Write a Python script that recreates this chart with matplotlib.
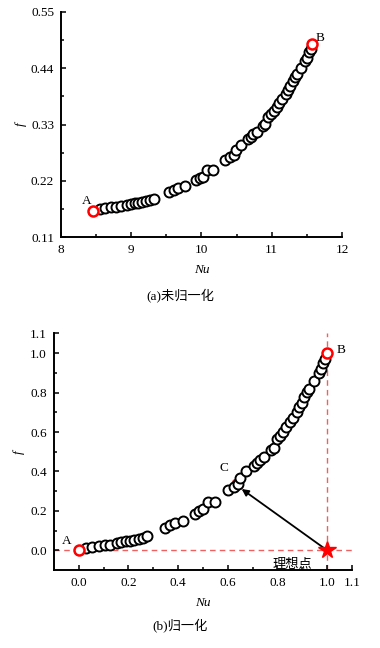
import matplotlib
matplotlib.use("Agg")
import matplotlib.pyplot as plt
from matplotlib.ticker import MultipleLocator, FixedLocator

plt.rcParams['font.family'] = ['Liberation Serif', 'Noto Sans CJK SC']

# (a) raw values
nu_raw = [8.557, 8.632, 8.716, 8.788, 8.850, 8.934, 8.997, 9.050, 9.103, 9.156,
          9.215, 9.262, 9.318, 9.543, 9.605, 9.667, 9.764, 9.920, 9.973, 10.020,
          10.079, 10.167, 10.335, 10.407, 10.457, 10.491, 10.566, 10.656, 10.700, 10.731,
          10.784, 10.875, 10.909, 10.950, 10.984, 11.028, 11.068, 11.109, 11.153, 11.202,
          11.231, 11.265, 11.296, 11.327, 11.358, 11.412, 11.474, 11.505, 11.530, 11.555]
f_raw = [0.165, 0.167, 0.168, 0.169, 0.170, 0.173, 0.175, 0.176, 0.177, 0.178,
         0.180, 0.182, 0.185, 0.198, 0.202, 0.207, 0.210, 0.221, 0.225, 0.228,
         0.241, 0.242, 0.261, 0.266, 0.270, 0.281, 0.291, 0.301, 0.305, 0.311,
         0.315, 0.327, 0.331, 0.345, 0.350, 0.357, 0.365, 0.373, 0.380, 0.390,
         0.398, 0.405, 0.415, 0.422, 0.428, 0.440, 0.454, 0.461, 0.471, 0.477]
raw_A = (8.46, 0.161)
raw_B = (11.58, 0.487)

# (b) normalised values
nu_norm = [0.031, 0.055, 0.082, 0.105, 0.125, 0.152, 0.172, 0.189, 0.206, 0.223,
           0.242, 0.257, 0.275, 0.347, 0.367, 0.387, 0.418, 0.468, 0.485, 0.500,
           0.519, 0.547, 0.601, 0.624, 0.640, 0.651, 0.675, 0.704, 0.718, 0.728,
           0.745, 0.774, 0.785, 0.798, 0.809, 0.823, 0.836, 0.849, 0.863, 0.879,
           0.888, 0.899, 0.909, 0.919, 0.929, 0.946, 0.966, 0.976, 0.984, 0.992]
f_norm = [0.012, 0.017, 0.020, 0.025, 0.029, 0.037, 0.042, 0.045, 0.049, 0.052,
          0.057, 0.064, 0.073, 0.113, 0.126, 0.140, 0.151, 0.185, 0.197, 0.207,
          0.244, 0.247, 0.308, 0.323, 0.335, 0.368, 0.400, 0.429, 0.442, 0.459,
          0.471, 0.509, 0.521, 0.563, 0.580, 0.600, 0.625, 0.650, 0.672, 0.701,
          0.728, 0.748, 0.778, 0.802, 0.818, 0.857, 0.899, 0.921, 0.950, 0.970]
norm_A = (0.0, 0.0)
norm_B = (1.0, 1.0)
norm_C = (0.636, 0.337)
ideal = (1.0, 0.0)

ms = 7.2
mew = 1.4
fs = 9.5

fig = plt.figure(figsize=(3.8, 6.48), dpi=100)


def style_axes(ax):
    for s in ['top', 'right']:
        ax.spines[s].set_visible(False)
    for s in ['left', 'bottom']:
        ax.spines[s].set_linewidth(1.4)
    ax.tick_params(which='both', direction='in', labelsize=fs, width=1.1)
    ax.tick_params(which='major', length=3.5, pad=5)
    ax.tick_params(which='minor', length=2)


# ---- (a) ----
ax1 = fig.add_axes([0.1605, 0.634, 0.7395, 0.3475])
ax1.plot(nu_raw, f_raw, 'o', ms=ms, mfc='white', mec='black', mew=mew, zorder=3)
ax1.plot(*raw_A, 'o', ms=ms, mfc='white', mec='red', mew=mew + 0.4, zorder=4)
ax1.plot(*raw_B, 'o', ms=ms, mfc='white', mec='red', mew=mew + 0.4, zorder=4)
ax1.text(raw_A[0] - 0.03, raw_A[1] + 0.008, 'A', fontsize=fs, ha='right', va='bottom')
ax1.text(raw_B[0] + 0.05, raw_B[1] + 0.001, 'B', fontsize=fs, ha='left', va='bottom')
ax1.set_xlim(8, 12)
ax1.set_ylim(0.11, 0.55)
ax1.xaxis.set_major_locator(MultipleLocator(1))
ax1.xaxis.set_minor_locator(MultipleLocator(0.5))
ax1.yaxis.set_major_locator(FixedLocator([0.11, 0.22, 0.33, 0.44, 0.55]))
ax1.yaxis.set_minor_locator(FixedLocator([0.165, 0.275, 0.385, 0.495]))
ax1.set_yticklabels(['0.11', '0.22', '0.33', '0.44', '0.55'])
style_axes(ax1)
ax1.set_xlabel('Nu', fontsize=fs, style='italic', labelpad=6)
ax1.set_ylabel('f', fontsize=fs, style='italic', labelpad=3)
fig.text(0.474, 0.545, '(a)未归一化', fontsize=fs, ha='center', va='center')

# ---- (b) ----
ax2 = fig.add_axes([0.142, 0.1204, 0.784, 0.365])
ax2.axhline(0, color='#f06060', ls=(0, (4, 3)), lw=1.0, zorder=1)
ax2.axvline(1.0, color='#f06060', ls=(0, (4, 3)), lw=1.0, zorder=1)
ax2.plot(*norm_C, 'o', ms=ms, mfc='white', mec='red', mew=mew + 0.4, zorder=2)
ax2.plot(nu_norm, f_norm, 'o', ms=ms, mfc='white', mec='black', mew=mew, zorder=3)
ax2.plot(*norm_A, 'o', ms=ms, mfc='white', mec='red', mew=mew + 0.4, zorder=4)
ax2.plot(*norm_B, 'o', ms=ms, mfc='white', mec='red', mew=mew + 0.4, zorder=4)
ax2.plot(*ideal, '*', ms=13, color='red', zorder=5)
ax2.annotate('', xy=(norm_C[0] + 0.02, norm_C[1] - 0.026), xytext=ideal,
             arrowprops=dict(arrowstyle='-|>', color='black', lw=1.3,
                             mutation_scale=10, shrinkA=2, shrinkB=0), zorder=4)
ax2.text(norm_A[0] - 0.03, norm_A[1] + 0.015, 'A', fontsize=fs, ha='right', va='bottom')
ax2.text(norm_B[0] + 0.04, norm_B[1] - 0.015, 'B', fontsize=fs, ha='left', va='bottom')
ax2.text(norm_C[0] - 0.05, norm_C[1] + 0.05, 'C', fontsize=fs, ha='center', va='bottom')
ax2.text(0.86, -0.075, '理想点', fontsize=fs, ha='center', va='center')
ax2.set_xlim(-0.1, 1.1)
ax2.set_ylim(-0.1, 1.1)
ticks = [0.0, 0.2, 0.4, 0.6, 0.8, 1.0, 1.1]
labels = ['0.0', '0.2', '0.4', '0.6', '0.8', '1.0', '1.1']
ax2.xaxis.set_major_locator(FixedLocator(ticks))
ax2.yaxis.set_major_locator(FixedLocator(ticks))
ax2.set_xticklabels(labels)
ax2.set_yticklabels(labels)
ax2.xaxis.set_minor_locator(FixedLocator([0.1, 0.3, 0.5, 0.7, 0.9]))
ax2.yaxis.set_minor_locator(FixedLocator([0.1, 0.3, 0.5, 0.7, 0.9]))
style_axes(ax2)
ax2.set_xlabel('Nu', fontsize=fs, style='italic', labelpad=6)
ax2.set_ylabel('f', fontsize=fs, style='italic', labelpad=4)
fig.text(0.474, 0.0355, '(b)归一化', fontsize=fs, ha='center', va='center')

fig.savefig('out.png', dpi=100, facecolor='white')
